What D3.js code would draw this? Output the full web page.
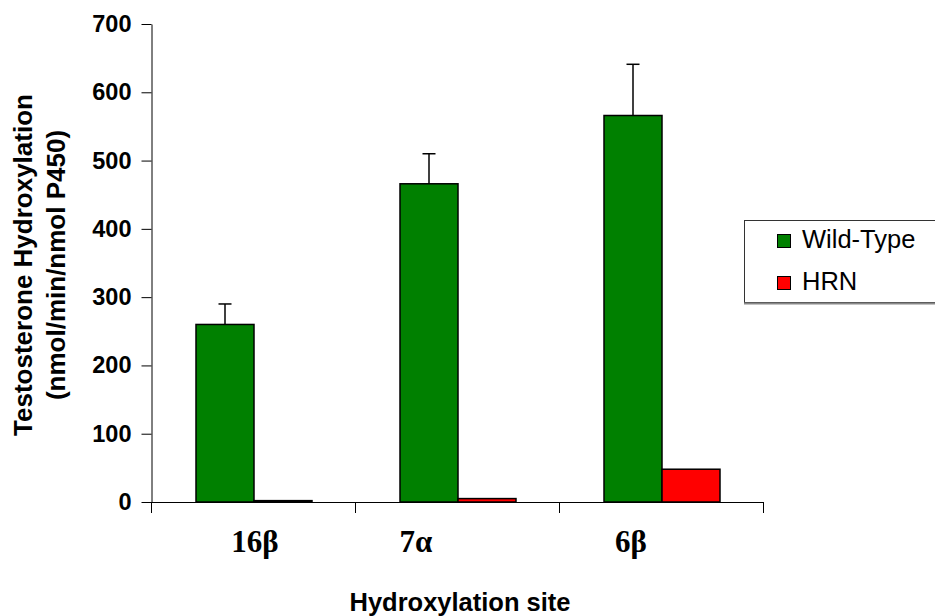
<!DOCTYPE html>
<html>
<head>
<meta charset="utf-8">
<script src="https://cdn.jsdelivr.net/npm/d3@7"></script>
<style>
  html, body { margin: 0; padding: 0; background: #fff; }
  svg { display: block; }
</style>
</head>
<body>
<svg id="chart" width="935" height="616"></svg>
<script>
// Testosterone hydroxylation by site, wild-type vs HRN
const sites = ["16β", "7α", "6β"];
const seriesNames = ["Wild-Type", "HRN"];
const wildType = [260, 466, 566];
const wildTypeErr = [30, 44, 75];
const hrn = [2, 5, 48];
const yTicks = [0, 100, 200, 300, 400, 500, 600, 700];

const colors = { "Wild-Type": "#008000", "HRN": "#ff0000" };

const svg = d3.select("#chart");
const plot = { left: 152, right: 764, top: 24, bottom: 502 };
const sans = "'Liberation Sans', Arial, sans-serif";
const serif = "'Liberation Serif', 'Times New Roman', serif";

const y = d3.scaleLinear().domain([0, 700]).range([plot.bottom, plot.top]);
const x0 = d3.scaleBand().domain(sites).range([plot.left, plot.right])
  .paddingInner(0.4314).paddingOuter(0.2157);
const x1 = d3.scaleBand().domain(seriesNames).range([0, x0.bandwidth()]);

const rows = sites.map((s, i) => ({
  site: s,
  values: [
    { name: "Wild-Type", value: wildType[i], err: wildTypeErr[i] },
    { name: "HRN", value: hrn[i], err: 0 }
  ]
}));

// Y axis
const yAxis = svg.append("g")
  .attr("transform", `translate(${plot.left - 0.5},0)`)
  .call(d3.axisLeft(y).tickValues(yTicks).tickSize(10).tickPadding(10).tickSizeOuter(0));
yAxis.select(".domain").attr("stroke", "#000").attr("stroke-width", 1);
yAxis.selectAll(".tick line").attr("stroke", "#000");
yAxis.selectAll(".tick text")
  .attr("font-family", sans)
  .attr("font-weight", "bold")
  .attr("font-size", 23.5)
  .attr("fill", "#000");

// X axis line with ticks at band boundaries
const step = x0.step();
const boundaries = d3.range(sites.length + 1).map(i => plot.left + i * step);
const xAxis = svg.append("g");
xAxis.append("line")
  .attr("x1", plot.left).attr("x2", plot.right)
  .attr("y1", y(0) + 0.5).attr("y2", y(0) + 0.5)
  .attr("stroke", "#000");
xAxis.selectAll("line.tk").data(boundaries).join("line")
  .attr("class", "tk")
  .attr("x1", d => Math.round(d) - 0.5).attr("x2", d => Math.round(d) - 0.5)
  .attr("y1", y(0)).attr("y2", y(0) + 11)
  .attr("stroke", "#000");

// Bars
const groups = svg.append("g").selectAll("g").data(rows).join("g")
  .attr("transform", d => `translate(${x0(d.site)},0)`);
groups.selectAll("rect").data(d => d.values).join("rect")
  .attr("x", d => x1(d.name))
  .attr("y", d => y(d.value))
  .attr("width", x1.bandwidth())
  .attr("height", d => y(0) - y(d.value))
  .attr("fill", d => colors[d.name])
  .attr("stroke", "#000")
  .attr("stroke-width", 1.5);

// Upper error bars
const capHalf = 6.5;
groups.selectAll("g.err").data(d => d.values.filter(v => v.err > 0)).join("g")
  .attr("class", "err")
  .each(function (d) {
    const g = d3.select(this);
    const cx = x1(d.name) + x1.bandwidth() / 2;
    g.append("line")
      .attr("x1", cx).attr("x2", cx)
      .attr("y1", y(d.value)).attr("y2", y(d.value + d.err))
      .attr("stroke", "#000").attr("stroke-width", 1.5);
    g.append("line")
      .attr("x1", cx - capHalf).attr("x2", cx + capHalf)
      .attr("y1", y(d.value + d.err)).attr("y2", y(d.value + d.err))
      .attr("stroke", "#000").attr("stroke-width", 1.5);
  });

// Category labels
const labelShift = [1, -42, -31];
svg.append("g").selectAll("text").data(sites).join("text")
  .attr("x", (d, i) => x0(d) + x0.bandwidth() / 2 + labelShift[i])
  .attr("y", 552)
  .attr("text-anchor", "middle")
  .attr("font-family", serif)
  .attr("font-weight", "bold")
  .attr("font-size", 31)
  .text(d => d);

// Axis titles
svg.append("text")
  .attr("x", (plot.left + plot.right) / 2 + 2)
  .attr("y", 611)
  .attr("text-anchor", "middle")
  .attr("font-family", sans)
  .attr("font-weight", "bold")
  .attr("font-size", 25.5)
  .text("Hydroxylation site");

const yTitle = svg.append("text")
  .attr("transform", `translate(0,${(plot.top + plot.bottom) / 2 + 2}) rotate(-90)`)
  .attr("text-anchor", "middle")
  .attr("font-family", sans)
  .attr("font-weight", "bold")
  .attr("font-size", 26);
yTitle.append("tspan").attr("x", 0).attr("y", 32).text("Testosterone Hydroxylation");
yTitle.append("tspan").attr("x", 0).attr("y", 65).text("(nmol/min/nmol P450)");

// Legend
const legend = svg.append("g").attr("transform", "translate(744,220)");
legend.append("rect")
  .attr("x", 0.5).attr("y", 0.5).attr("width", 200).attr("height", 82)
  .attr("fill", "#fff").attr("stroke", "#333").attr("stroke-width", 1);
legend.append("line")
  .attr("x1", 0).attr("x2", 200).attr("y1", 83.5).attr("y2", 83.5)
  .attr("stroke", "#888").attr("stroke-width", 2);
const items = legend.selectAll("g.item").data(seriesNames).join("g")
  .attr("class", "item")
  .attr("transform", (d, i) => `translate(0,${i * 42})`);
items.append("rect")
  .attr("x", 33.5).attr("y", 14.5).attr("width", 13).attr("height", 13)
  .attr("fill", d => colors[d]).attr("stroke", "#000");
items.append("text")
  .attr("x", 58).attr("y", 28)
  .attr("font-family", sans)
  .attr("font-size", 25.5)
  .text(d => d);
</script>
</body>
</html>
